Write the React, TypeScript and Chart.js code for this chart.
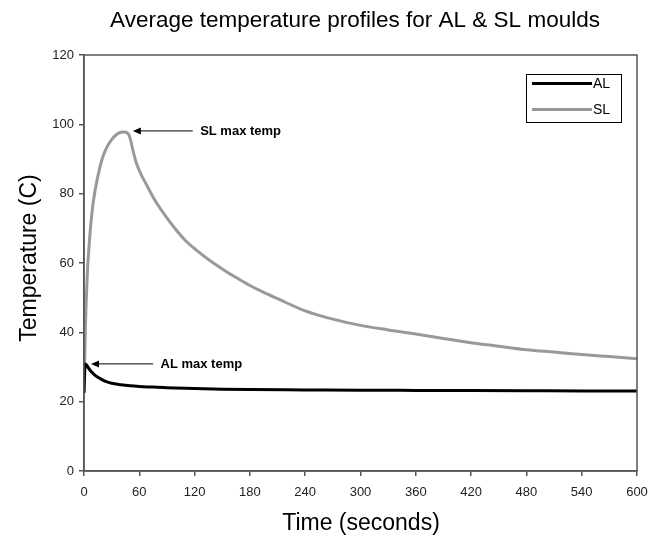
import { useEffect, useRef } from 'react';
import { Chart, registerables } from 'chart.js';

Chart.register(...registerables);

const FONT = '"Liberation Sans", Arial, sans-serif';

const chartTitle = 'Average temperature profiles for AL & SL moulds';
const xTitle = 'Time (seconds)';
const yTitle = 'Temperature (C)';

const seriesNames = ['AL', 'SL'];
const seriesColors = ['#000000', '#999999'];

const alTime = [0, 0.5, 1.5, 3, 5, 8, 12, 16, 20, 25, 30, 40, 50, 60, 75, 90, 120, 150, 180, 240, 300, 360, 420, 480, 540, 600];
const alTemp = [22.5, 27, 30.9, 30.5, 29.7, 28.6, 27.6, 26.9, 26.3, 25.7, 25.3, 24.9, 24.6, 24.4, 24.2, 24.0, 23.8, 23.6, 23.5, 23.4, 23.3, 23.25, 23.2, 23.15, 23.1, 23.1];

const slTime = [0, 1, 1.5, 2, 3, 4, 5, 7, 10, 15, 20, 25, 30, 35, 40, 44, 47, 49, 51, 53, 57, 62, 68, 75, 82, 90, 100, 110, 122, 135, 150, 165, 180, 195, 210, 240, 270, 300, 330, 360, 390, 420, 450, 480, 510, 540, 570, 600];
const slTemp = [23, 35, 41, 46, 53, 59, 63, 70, 77.5, 85, 90.3, 93.5, 95.6, 97, 97.7, 97.8, 97.5, 96.8, 95, 92.6, 88.7, 85.5, 82.5, 79, 76, 73, 69.5, 66.5, 63.7, 61, 58.3, 55.8, 53.5, 51.5, 49.7, 46.2, 43.8, 42, 40.7, 39.5, 38.2, 37, 36, 35, 34.3, 33.6, 33, 32.4];

const xMin = 0, xMax = 600, xStep = 60;
const yMin = 0, yMax = 120, yStep = 20;

// annotations: text, arrow tip (data), arrow tail x (data), text start x (data)
const annoText = ['SL max temp', 'AL max temp'];
const annoTipX = [53, 7.6];
const annoTipY = [98.1, 30.9];
const annoTailX = [118, 75];
const annoTextX = [126, 83];

export default function App() {
  const ref = useRef<HTMLCanvasElement>(null);
  useEffect(() => {
    document.body.style.margin = '0';
    const decor = {
      id: 'decor',
      afterDatasetsDraw(chart: any) {
        const { ctx, chartArea: a, scales } = chart;
        const xs = scales.x, ys = scales.y;
        ctx.save();
        // frame
        ctx.strokeStyle = '#555';
        ctx.lineWidth = 1.5;
        ctx.strokeRect(a.left, a.top, a.right - a.left, a.bottom - a.top);
        // annotations
        ctx.fillStyle = '#000';
        ctx.strokeStyle = '#000';
        ctx.lineWidth = 1;
        ctx.font = 'bold 13px ' + FONT;
        ctx.textBaseline = 'middle';
        ctx.textAlign = 'left';
        for (let i = 0; i < annoText.length; i++) {
          const tx = xs.getPixelForValue(annoTipX[i]);
          const ty = ys.getPixelForValue(annoTipY[i]);
          const ex = xs.getPixelForValue(annoTailX[i]);
          ctx.beginPath();
          ctx.moveTo(tx + 6, ty);
          ctx.lineTo(ex, ty);
          ctx.stroke();
          ctx.beginPath();
          ctx.moveTo(tx, ty);
          ctx.lineTo(tx + 8, ty - 3.5);
          ctx.lineTo(tx + 8, ty + 3.5);
          ctx.closePath();
          ctx.fill();
          ctx.fillText(annoText[i], xs.getPixelForValue(annoTextX[i]), ty + 1);
        }
        // legend
        const lx = 526, ly = 74, lw = 95, lh = 48;
        ctx.fillStyle = '#fff';
        ctx.fillRect(lx, ly, lw, lh);
        ctx.strokeStyle = '#000';
        ctx.lineWidth = 1;
        ctx.strokeRect(lx + 0.5, ly + 0.5, lw, lh);
        ctx.font = '14px ' + FONT;
        for (let i = 0; i < seriesNames.length; i++) {
          const yy = ly + 9.5 + i * 26;
          ctx.strokeStyle = seriesColors[i];
          ctx.lineWidth = 3;
          ctx.beginPath();
          ctx.moveTo(lx + 6, yy);
          ctx.lineTo(lx + 66, yy);
          ctx.stroke();
          ctx.fillStyle = '#000';
          ctx.fillText(seriesNames[i], lx + 67, yy + 1);
        }
        // titles
        ctx.fillStyle = '#000';
        ctx.textAlign = 'center';
        ctx.textBaseline = 'alphabetic';
        ctx.font = '22.5px ' + FONT;
        ctx.fillText(chartTitle, 355, 27);
        ctx.font = '23px ' + FONT;
        ctx.fillText(xTitle, 361, 530);
        ctx.translate(36, 258);
        ctx.rotate(-Math.PI / 2);
        ctx.fillText(yTitle, 0, 0);
        ctx.restore();
      },
    };
    const tickFont = { family: FONT, size: 13 };
    const chart = new Chart(ref.current!, {
      type: 'line',
      data: {
        datasets: [
          {
            label: seriesNames[0],
            data: alTime.map((t, i) => ({ x: t, y: alTemp[i] })),
            borderColor: seriesColors[0],
            borderWidth: 3,
            pointRadius: 0,
            cubicInterpolationMode: 'monotone',
            fill: false,
          },
          {
            label: seriesNames[1],
            data: slTime.map((t, i) => ({ x: t, y: slTemp[i] })),
            borderColor: seriesColors[1],
            borderWidth: 3,
            pointRadius: 0,
            cubicInterpolationMode: 'monotone',
            fill: false,
          },
        ],
      },
      options: {
        responsive: false,
        animation: false,
        layout: { padding: { top: 55, right: 24, left: 0, bottom: 0 } },
        plugins: {
          legend: { display: false },
          title: { display: false },
          tooltip: { enabled: false },
        },
        scales: {
          x: {
            type: 'linear',
            min: xMin,
            max: xMax,
            ticks: { stepSize: xStep, font: tickFont, color: '#222', padding: 9, maxRotation: 0, autoSkip: false },
            grid: { drawOnChartArea: false, drawTicks: true, tickLength: 5, color: '#555', lineWidth: 1.5 },
            border: { color: '#555', width: 1.5 },
            afterFit: (s: any) => { s.height = 64; },
          },
          y: {
            min: yMin,
            max: yMax,
            ticks: { stepSize: yStep, font: tickFont, color: '#222', padding: 5 },
            grid: { drawOnChartArea: false, drawTicks: true, tickLength: 5, color: '#555', lineWidth: 1.5 },
            border: { color: '#555', width: 1.5 },
            afterFit: (s: any) => { s.width = 84; },
          },
        },
      } as any,
      plugins: [decor],
    });
    return () => chart.destroy();
  }, []);
  return (
    <div style={{ width: 661, height: 535, position: 'relative' }}>
      <canvas ref={ref} width={661} height={535} style={{ display: 'block', width: 661, height: 535 }} />
    </div>
  );
}
